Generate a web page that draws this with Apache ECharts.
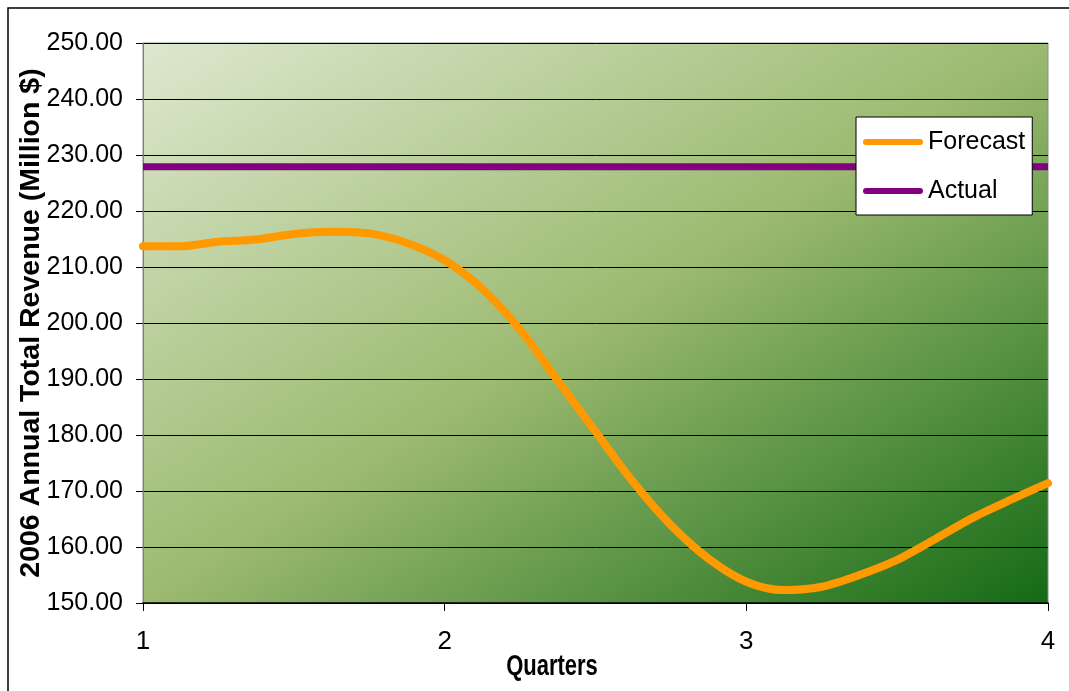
<!DOCTYPE html>
<html>
<head>
<meta charset="utf-8">
<script src="https://cdn.jsdelivr.net/npm/echarts@6/dist/echarts.min.js"></script>
<style>html,body{margin:0;padding:0;background:#fff;}#c{width:1069px;height:691px;}</style>
</head>
<body>
<div id="c"></div>
<script>
// Quarter positions of the sampled forecast points
const quarterPos = [1, 1.125, 1.25, 1.375, 1.5, 1.625, 1.75, 1.875, 2, 2.125, 2.25, 2.375, 2.5, 2.625, 2.75, 2.875, 3, 3.125, 3.25, 3.375, 3.5, 3.625, 3.75, 3.875, 4];
// Forecast revenue (Million $)
const forecast = [213.7, 213.7, 214.5, 214.9, 215.9, 216.3, 216.0, 214.3, 211.2, 206.1, 198.8, 189.7, 180.6, 171.6, 163.9, 157.9, 153.8, 152.3, 152.9, 155.0, 157.7, 161.4, 165.2, 168.4, 171.4];
// Actual revenue (flat)
const actualPos = [1, 4];
const actual = [227.9, 227.9];
const seriesNames = ['Forecast', 'Actual'];
const seriesColors = ['#ff9900', '#800080'];
const xTicks = [1, 2, 3, 4];
const yTicks = [150, 160, 170, 180, 190, 200, 210, 220, 230, 240, 250];
const xTitle = 'Quarters';
const yTitle = '2006 Annual Total Revenue (Million $)';

const font = '"Liberation Sans", Arial, sans-serif';
const chart = echarts.init(document.getElementById('c'), null, {renderer: 'canvas'});

const bg = new echarts.graphic.LinearGradient(0, 0, 0.554, 1.446, [
  {offset: 0, color: '#dde8cf'},
  {offset: 0.5, color: '#9cba70'},
  {offset: 1, color: '#146a15'}
]);

const legendIcon = 'path://M3,0 H57 A3,3 0 0 1 57,6 H3 A3,3 0 0 1 3,0 Z';

chart.setOption({
  animation: false,
  backgroundColor: '#ffffff',
  grid: {
    left: 143, top: 43, width: 905, height: 560,
    show: true, backgroundColor: bg, borderColor: '#8a8a8a', borderWidth: 1
  },
  legend: {
    orient: 'vertical',
    left: 856, top: 117,
    backgroundColor: '#ffffff',
    borderColor: '#000000', borderWidth: 1, borderRadius: 0,
    padding: [12, 7, 11, 7],
    itemWidth: 60, itemHeight: 7, itemGap: 23,
    textStyle: {fontSize: 25, fontFamily: font, color: '#000', lineHeight: 26},
    data: seriesNames.map((n, i) => ({name: n, icon: legendIcon,
      itemStyle: {color: seriesColors[i], borderWidth: 0}})),
    itemStyle: {borderWidth: 0}
  },
  xAxis: {
    type: 'value', min: xTicks[0], max: xTicks[xTicks.length - 1], interval: 1,
    axisLine: {show: true, onZero: false, lineStyle: {color: '#000', width: 1.5}},
    axisTick: {show: true, length: 8, lineStyle: {color: '#000', width: 1}},
    axisLabel: {fontSize: 26, fontFamily: font, color: '#000', margin: 26},
    splitLine: {show: false}
  },
  yAxis: {
    type: 'value', min: yTicks[0], max: yTicks[yTicks.length - 1], interval: 10,
    axisLine: {show: true, lineStyle: {color: '#808080', width: 1}},
    axisTick: {show: true, length: 7, lineStyle: {color: '#000', width: 1}},
    axisLabel: {fontSize: 25, fontFamily: font, color: '#000', margin: 20,
      formatter: v => v.toFixed(2)},
    splitLine: {show: true, lineStyle: {color: '#000', width: 1}}
  },
  graphic: [
    {type: 'rect', shape: {x: 8, y: 8, width: 1100, height: 720},
      style: {fill: 'none', stroke: '#000', lineWidth: 1.5}, silent: true, z: 100},
    {type: 'text', x: 31, y: 323, rotation: Math.PI / 2,
      style: {text: yTitle, fontSize: 28.5, fontWeight: 'bold', fontFamily: font, fill: '#000',
        align: 'center', verticalAlign: 'middle'}},
    {type: 'text', x: 552, y: 667,
      style: {text: xTitle, fontSize: 22, fontWeight: 'bold', fontFamily: font, fill: '#000',
        align: 'center', verticalAlign: 'middle'}, scaleY: 1.3}
  ],
  series: [
    {
      name: seriesNames[0], type: 'line', smooth: 0.3, showSymbol: false, symbol: 'none',
      data: quarterPos.map((q, i) => [q, forecast[i]]),
      lineStyle: {color: seriesColors[0], width: 8, cap: 'round', join: 'round'},
      itemStyle: {color: seriesColors[0]}, z: 3
    },
    {
      name: seriesNames[1], type: 'line', showSymbol: false, symbol: 'none',
      data: actualPos.map((q, i) => [q, actual[i]]),
      lineStyle: {color: seriesColors[1], width: 7},
      itemStyle: {color: seriesColors[1]}, z: 3
    }
  ]
});
</script>
</body>
</html>
